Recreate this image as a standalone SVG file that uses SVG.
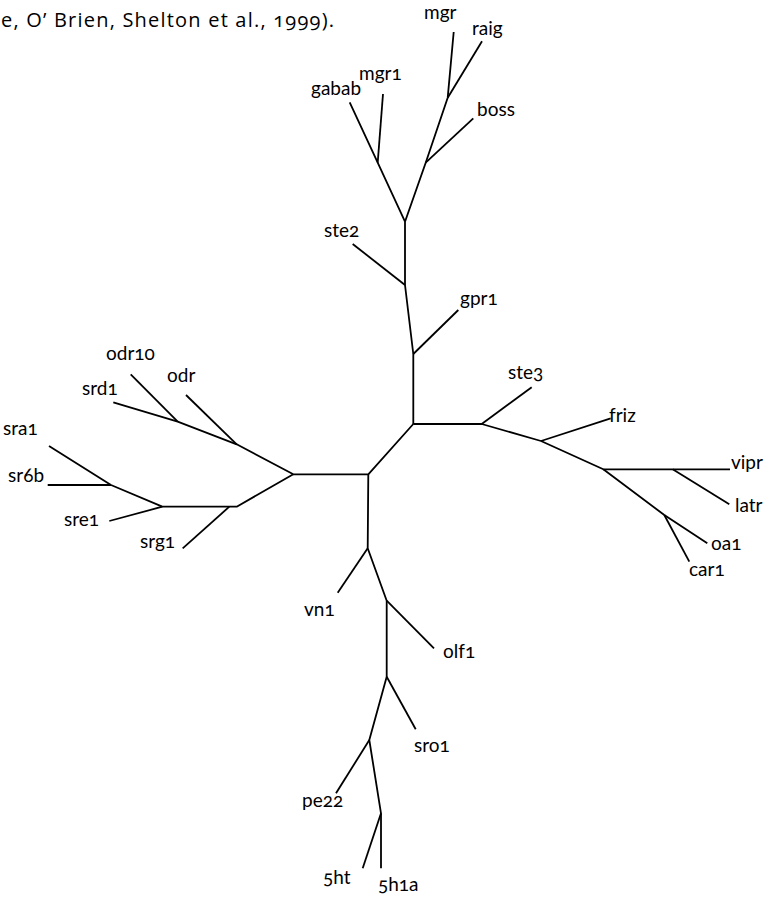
<svg xmlns="http://www.w3.org/2000/svg" width="768" height="897" viewBox="0 0 768 897">
<style>
text{font-family:Lato,"Open Sans","DejaVu Sans",sans-serif;font-size:19px;fill:#000;font-variant-numeric:oldstyle-nums;font-feature-settings:"onum" 1}
text.cap{font-family:"Open Sans","Noto Sans",sans-serif;font-size:20px}
.e{fill:none;stroke:#000;stroke-width:1.8;stroke-linejoin:round;stroke-linecap:butt}
</style>
<rect width="768" height="897" fill="#fff"/>
<text class="cap" x="1" y="27" textLength="333" lengthAdjust="spacing">e, O’ Brien, Shelton et al., 1999).</text>
<g id="connectors">
<path class="e" d="M453.7,32 L447.7,97.7 L425.7,162.7 L405,221.7"/>
<path class="e" d="M482,41.3 L447.7,97.7"/>
<path class="e" d="M473.3,118.3 L425.7,162.7"/>
<path class="e" d="M349.7,102.3 L377.7,162.7 L405,221.7"/>
<path class="e" d="M383,94 L377.7,162.7"/>
<path class="e" d="M405,221.7 L405,285 L413.3,354 L413.3,424"/>
<path class="e" d="M352.7,244 L405,285"/>
<path class="e" d="M458.3,310 L413.3,354"/>
<path class="e" d="M413.3,424 L481.7,424 L541,441 L603.3,469.3 L730,469.3"/>
<path class="e" d="M531.7,387.3 L481.7,424"/>
<path class="e" d="M610.7,418.3 L541,441"/>
<path class="e" d="M672.7,469.3 L729.3,504.3"/>
<path class="e" d="M603.3,469.3 L664.3,515 L707.3,543.3"/>
<path class="e" d="M664.3,515 L689.3,561.7"/>
<path class="e" d="M413.3,424 L368.3,474.3 L293.3,474.3 L236.7,444.3 L177.7,421.7 L113.3,402.3"/>
<path class="e" d="M186,395 L236.7,444.3"/>
<path class="e" d="M130.7,374.3 L177.7,421.7"/>
<path class="e" d="M293.3,474.3 L236.7,506.7 L162.3,506.7 L111,485 L49,446"/>
<path class="e" d="M182.7,548.3 L229.3,506.7"/>
<path class="e" d="M109.3,521 L162.3,506.7"/>
<path class="e" d="M47.7,485 L111,485"/>
<path class="e" d="M368.3,474.3 L367.7,548.3 L386.7,600.7 L386.7,676.7 L369.3,740 L381,813.3 L381,868.3"/>
<path class="e" d="M337.7,592.7 L367.7,548.3"/>
<path class="e" d="M434,648.3 L386.7,600.7"/>
<path class="e" d="M415.7,729.3 L386.7,676.7"/>
<path class="e" d="M336,793.3 L369.3,740"/>
<path class="e" d="M362.7,868.3 L381,813.3"/>
</g>
<g id="n-mgr"><text x="424" y="19">mgr</text></g>
<g id="n-raig"><text x="472" y="35">raig</text></g>
<g id="n-mgr1"><text x="359" y="80">mgr1</text></g>
<g id="n-gabab"><text x="311" y="95">gabab</text></g>
<g id="n-boss"><text x="477" y="116">boss</text></g>
<g id="n-ste2"><text x="324" y="237">ste2</text></g>
<g id="n-gpr1"><text x="460" y="305">gpr1</text></g>
<g id="n-ste3"><text x="508" y="379">ste3</text></g>
<g id="n-friz"><text x="609" y="422">friz</text></g>
<g id="n-vipr"><text x="731" y="469">vipr</text></g>
<g id="n-latr"><text x="735" y="512">latr</text></g>
<g id="n-oa1"><text x="711" y="550">oa1</text></g>
<g id="n-car1"><text x="689" y="576">car1</text></g>
<g id="n-odr10"><text x="106" y="360">odr10</text></g>
<g id="n-odr"><text x="167" y="382">odr</text></g>
<g id="n-srd1"><text x="82" y="395">srd1</text></g>
<g id="n-sra1"><text x="3" y="435">sra1</text></g>
<g id="n-sr6b"><text x="8" y="482">sr6b</text></g>
<g id="n-sre1"><text x="64" y="526">sre1</text></g>
<g id="n-srg1"><text x="140" y="548">srg1</text></g>
<g id="n-vn1"><text x="304" y="616">vn1</text></g>
<g id="n-olf1"><text x="443" y="658">olf1</text></g>
<g id="n-sro1"><text x="414" y="752">sro1</text></g>
<g id="n-pe22"><text x="302" y="807">pe22</text></g>
<g id="n-5ht"><text x="323" y="884">5ht</text></g>
<g id="n-5h1a"><text x="378" y="891">5h1a</text></g>
</svg>
